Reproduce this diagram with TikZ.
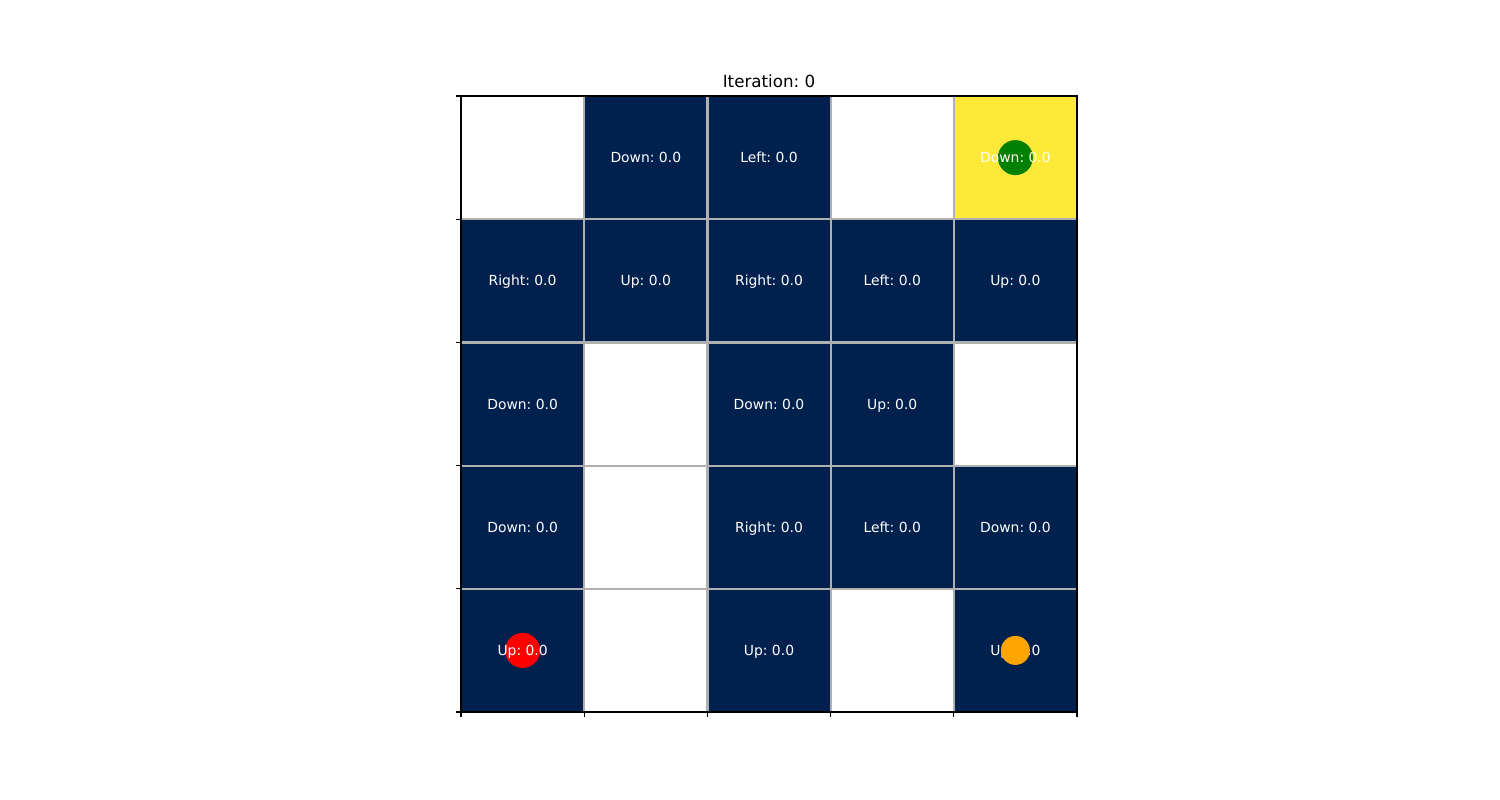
\documentclass[tikz,border=0pt]{standalone}
\usepackage{fontspec}
\setmainfont{DejaVu Sans}
\usepackage{tikz}
\usetikzlibrary{calc}
\frenchspacing
\definecolor{navy}{HTML}{00204D}
\definecolor{goal}{HTML}{FEE838}
\definecolor{gridgray}{HTML}{B0B0B0}
\definecolor{agent}{HTML}{FFA500}
\definecolor{mplgreen}{HTML}{008000}
\tikzset{
  % grid cells
  cell/.style={rectangle, minimum size=123.2pt, inner sep=0pt, fill=#1},
  cell/.default={navy},
  celltext/.style={text=white, font=\fontsize{13.9}{16}\selectfont, inner sep=0pt, text height=10.1pt, text depth=0pt},
  % markers
  marker/.style={circle, minimum size=35pt, inner sep=0pt, fill=#1},
  gridline/.style={draw=gridgray, line width=2.2pt},
  frame/.style={draw=black, line width=1.1pt},
  tick/.style={draw=black, line width=1.1pt},
}
\begin{document}
\begin{tikzpicture}[x=1pt, y=-1pt]
    \useasboundingbox (0,0) rectangle (1500,800);

    % Cells: row/col/fill
    \foreach \r/\c/\f in {
        0/0/white, 0/1/navy, 0/2/navy, 0/3/white, 0/4/goal,
        1/0/navy, 1/1/navy, 1/2/navy, 1/3/navy, 1/4/navy,
        2/0/navy, 2/1/white, 2/2/navy, 2/3/navy, 2/4/white,
        3/0/navy, 3/1/white, 3/2/navy, 3/3/navy, 3/4/navy,
        4/0/navy, 4/1/white, 4/2/navy, 4/3/white, 4/4/navy}
        \node[cell=\f] (c\r\c) at ({461+123.2*(\c+0.5)}, {96+123.2*(\r+0.5)}) {};

    % Grid lines
    \foreach \i in {1,...,4} {
        \draw[gridline] ({461+123.2*\i}, 96) -- ({461+123.2*\i}, 712);
        \draw[gridline] (461, {96+123.2*\i}) -- (1077, {96+123.2*\i});
    }

    % Goal and start
    \node[marker=mplgreen] (goalmark) at (c04.center) {};
    \node[marker=red] (startmark) at (c40.center) {};

    % Labels
    \foreach \r/\c/\t in {
        0/1/{Down: 0.0}, 0/2/{Left: 0.0}, 0/4/{Down: 0.0},
        1/0/{Right: 0.0}, 1/1/{Up: 0.0}, 1/2/{Right: 0.0}, 1/3/{Left: 0.0}, 1/4/{Up: 0.0},
        2/0/{Down: 0.0}, 2/2/{Down: 0.0}, 2/3/{Up: 0.0},
        3/0/{Down: 0.0}, 3/2/{Right: 0.0}, 3/3/{Left: 0.0}, 3/4/{Down: 0.0},
        4/0/{Up: 0.0}, 4/2/{Up: 0.0}, 4/4/{Up: 0.0}}
        \node[celltext] (t\r\c) at (c\r\c.center) {\t};

    % Agent
    \node[marker=agent, minimum size=29pt] (agentmark) at (c44.center) {};

    % Axes frame and ticks
    \draw[frame] (461,96) rectangle (1077,712);
    \foreach \i in {0,...,5} {
        \draw[tick] (461, {96+123.2*\i}) -- ++(-4.9,0);
        \draw[tick] ({461+123.2*\i}, 712) -- ++(0,4.9);
    }

    \node[font=\fontsize{16.7}{20}\selectfont, anchor=base] (title) at (769,88) {Iteration: 0};
\end{tikzpicture}
\end{document}
